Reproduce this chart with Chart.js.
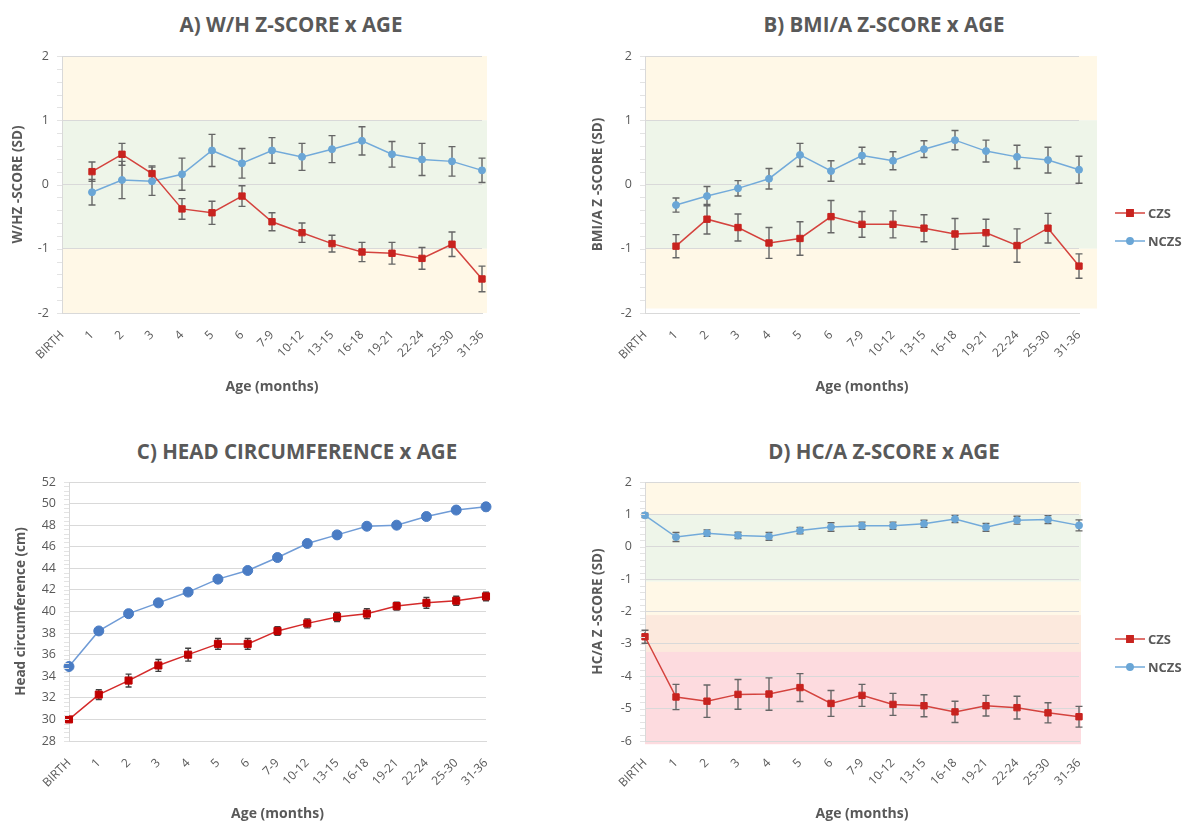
<!DOCTYPE html>
<html>
<head>
<meta charset="utf-8">
<script src="https://cdn.jsdelivr.net/npm/chart.js@4.4.1/dist/chart.umd.min.js"></script>
<style>
    html, body { margin: 0; padding: 0; background: #fff; overflow: hidden; }
    body { width: 1186px; height: 823px; position: relative; font-family: "Open Sans", sans-serif; }
    canvas { position: absolute; }
    .title {
        position: absolute;
        transform: translate(-50%, -50%);
        font-size: 20.5px;
        font-weight: bold;
        color: #595959;
        white-space: nowrap;
    }
</style>
</head>
<body>
<div class="title" style="left:291px; top:24px;">A) W/H Z-SCORE x AGE</div>
<div class="title" style="left:884px; top:24px;">B) BMI/A Z-SCORE x AGE</div>
<div class="title" style="left:297px; top:451px;">C) HEAD CIRCUMFERENCE x AGE</div>
<div class="title" style="left:884px; top:451px;">D) HC/A Z-SCORE x AGE</div>

<canvas id="chartA" width="540" height="403" style="left:0; top:0;"></canvas>
<canvas id="chartB" width="626" height="403" style="left:560px; top:0;"></canvas>
<canvas id="chartC" width="540" height="403" style="left:0; top:420px;"></canvas>
<canvas id="chartD" width="626" height="403" style="left:560px; top:420px;"></canvas>

<script>
// Age groups (x axis)
const ageLabels = ['BIRTH', '1', '2', '3', '4', '5', '6', '7-9', '10-12', '13-15', '16-18', '19-21', '22-24', '25-30', '31-36'];

// A) W/H z-score
const whzCzs = [null, 0.20, 0.47, 0.17, -0.38, -0.44, -0.18, -0.58, -0.75, -0.92, -1.05, -1.07, -1.15, -0.93, -1.47];
const whzCzsErr = [null, 0.15, 0.17, 0.12, 0.16, 0.18, 0.16, 0.14, 0.15, 0.13, 0.15, 0.17, 0.17, 0.19, 0.20];
const whzNczs = [null, -0.12, 0.07, 0.05, 0.16, 0.53, 0.33, 0.53, 0.43, 0.55, 0.68, 0.47, 0.39, 0.36, 0.22];
const whzNczsErr = [null, 0.20, 0.29, 0.22, 0.25, 0.25, 0.23, 0.20, 0.21, 0.21, 0.22, 0.20, 0.25, 0.23, 0.19];
const whzBands = [[1, 2], [-1, 1], [-2, -1]];

// B) BMI/A z-score
const bmiCzs = [null, -0.96, -0.54, -0.67, -0.91, -0.84, -0.50, -0.62, -0.62, -0.68, -0.77, -0.75, -0.95, -0.68, -1.27];
const bmiCzsErr = [null, 0.18, 0.23, 0.21, 0.24, 0.26, 0.25, 0.20, 0.21, 0.21, 0.24, 0.21, 0.26, 0.23, 0.19];
const bmiNczs = [null, -0.32, -0.18, -0.06, 0.09, 0.46, 0.21, 0.45, 0.37, 0.55, 0.69, 0.52, 0.43, 0.38, 0.23];
const bmiNczsErr = [null, 0.11, 0.15, 0.12, 0.16, 0.18, 0.16, 0.13, 0.14, 0.13, 0.15, 0.17, 0.18, 0.20, 0.21];
const bmiBands = [[1, 2], [-1, 1], [-1.93, -1]];

// C) Head circumference (cm)
const hcCzs = [30.0, 32.3, 33.6, 35.0, 36.0, 37.0, 37.0, 38.2, 38.9, 39.5, 39.8, 40.5, 40.8, 41.0, 41.4];
const hcCzsErr = [0.2, 0.45, 0.6, 0.55, 0.6, 0.5, 0.5, 0.4, 0.42, 0.42, 0.46, 0.37, 0.5, 0.42, 0.4];
const hcNczs = [34.9, 38.2, 39.8, 40.8, 41.8, 43.0, 43.8, 45.0, 46.3, 47.1, 47.9, 48.0, 48.8, 49.4, 49.7];
const hcNczsErr = [0.15, 0.2, 0.2, 0.2, 0.2, 0.2, 0.25, 0.2, 0.2, 0.25, 0.2, 0.2, 0.25, 0.3, 0.35];

// D) HC/A z-score
const hcaCzs = [-2.78, -4.64, -4.77, -4.56, -4.55, -4.35, -4.84, -4.59, -4.87, -4.91, -5.10, -4.91, -4.97, -5.13, -5.25];
const hcaCzsErr = [0.20, 0.39, 0.50, 0.46, 0.50, 0.43, 0.40, 0.34, 0.34, 0.34, 0.33, 0.32, 0.35, 0.31, 0.32];
const hcaNczs = [0.97, 0.30, 0.42, 0.35, 0.32, 0.50, 0.61, 0.65, 0.65, 0.71, 0.86, 0.60, 0.82, 0.84, 0.66];
const hcaNczsErr = [0.07, 0.14, 0.10, 0.10, 0.12, 0.10, 0.13, 0.11, 0.11, 0.11, 0.11, 0.12, 0.12, 0.12, 0.17];
const hcaBands = [[1, 2], [-1.08, 1], [-2.11, -1.08], [-3.25, -2.11], [-6.1, -3.25]];

const BAND_YELLOW = '#FFF8E7';
const BAND_GREEN = '#EEF5E9';
const BAND_PEACH = '#FCE9DD';
const BAND_PINK = '#FDDBDF';

Chart.defaults.font.family = '"Open Sans", sans-serif';
Chart.defaults.color = '#595959';

// Coloured background ranges behind the grid
const bandPlugin = {
    id: 'bands',
    beforeDraw(chart, args, opts) {
        if (!opts.ranges) return;
        const {ctx, chartArea, scales} = chart;
        const y = scales.y;
        ctx.save();
        opts.ranges.forEach((r, i) => {
            const top = y.getPixelForValue(r[1]);
            const bottom = y.getPixelForValue(r[0]);
            ctx.fillStyle = opts.colors[i];
            ctx.fillRect(chartArea.left, top, chartArea.right - chartArea.left + opts.extend, bottom - top);
        });
        ctx.restore();
    }
};

// Small minor tick marks left of the y axis
const minorTickPlugin = {
    id: 'minorTicks',
    afterDraw(chart, args, opts) {
        const {ctx, chartArea, scales} = chart;
        const y = scales.y;
        const step = opts.step;
        ctx.save();
        ctx.strokeStyle = '#E3E3E3';
        ctx.lineWidth = 1;
        ctx.beginPath();
        for (let v = y.min; v <= y.max + 1e-9; v += step) {
            const py = Math.round(y.getPixelForValue(v)) + 0.5;
            ctx.moveTo(chartArea.left - 5, py);
            ctx.lineTo(chartArea.left, py);
        }
        ctx.stroke();
        ctx.restore();
    }
};

// Vertical error bars with caps (+/- values kept on each dataset)
const errorBarPlugin = {
    id: 'errorBars',
    beforeDatasetsDraw(chart, args, opts) {
        const {ctx, scales} = chart;
        const y = scales.y;
        ctx.save();
        ctx.strokeStyle = opts.color;
        ctx.lineWidth = opts.width;
        chart.data.datasets.forEach((ds, i) => {
            const meta = chart.getDatasetMeta(i);
            meta.data.forEach((pt, j) => {
                const v = ds.data[j];
                const e = ds.errors[j];
                if (v == null || e == null) return;
                const top = y.getPixelForValue(v + e);
                const bottom = y.getPixelForValue(v - e);
                const x = pt.x;
                ctx.beginPath();
                ctx.moveTo(x, top);
                ctx.lineTo(x, bottom);
                ctx.moveTo(x - opts.cap, top);
                ctx.lineTo(x + opts.cap, top);
                ctx.moveTo(x - opts.cap, bottom);
                ctx.lineTo(x + opts.cap, bottom);
                ctx.stroke();
            });
        });
        ctx.restore();
    }
};

// Excel style legend: short line with the marker in the middle
const lineLegendPlugin = {
    id: 'lineLegend',
    afterDraw(chart, args, opts) {
        if (!opts.display) return;
        const {ctx, chartArea} = chart;
        ctx.save();
        chart.data.datasets.forEach((ds, i) => {
            const x0 = chartArea.right + opts.offsetX;
            const y0 = chartArea.top + opts.offsetY + i * opts.spacing;
            ctx.strokeStyle = ds.borderColor;
            ctx.lineWidth = 1.5;
            ctx.beginPath();
            ctx.moveTo(x0, y0);
            ctx.lineTo(x0 + 30, y0);
            ctx.stroke();
            ctx.fillStyle = ds.pointBackgroundColor;
            ctx.strokeStyle = ds.pointBorderColor;
            Chart.helpers.drawPoint(ctx, {pointStyle: ds.pointStyle, radius: ds.legendRadius, rotation: 0, borderWidth: 1}, x0 + 15, y0);
            ctx.fillStyle = '#595959';
            ctx.font = 'bold 13px "Open Sans", sans-serif';
            ctx.textBaseline = 'middle';
            ctx.textAlign = 'left';
            ctx.fillText(ds.label, x0 + 33, y0 + 1);
        });
        ctx.restore();
    }
};

function czsDataset(values, errors, colors, radius) {
    return {
        label: 'CZS',
        data: values,
        errors: errors,
        borderColor: colors.line,
        borderWidth: 1.5,
        pointStyle: 'rect',
        pointRadius: radius,
        pointBackgroundColor: colors.marker,
        pointBorderColor: colors.marker,
        pointBorderWidth: 1,
        legendRadius: 4.5,
        spanGaps: false
    };
}

function nczsDataset(values, errors, colors, radius) {
    return {
        label: 'NCZS',
        data: values,
        errors: errors,
        borderColor: colors.line,
        borderWidth: 1.5,
        pointStyle: 'circle',
        pointRadius: radius,
        pointBackgroundColor: colors.marker,
        pointBorderColor: colors.marker,
        pointBorderWidth: 1,
        legendRadius: 3.2,
        spanGaps: false
    };
}

const redLight = {line: '#D4433E', marker: '#C8231F'};
const blueLight = {line: '#72AADA', marker: '#6AA6D6'};
const redDark = {line: '#D42A2A', marker: '#C00000'};
const blueDark = {line: '#6F9BD6', marker: '#4A7CC4'};

function makePanel(id, cfg) {
    return new Chart(document.getElementById(id), {
        type: 'line',
        data: {
            labels: ageLabels,
            datasets: cfg.datasets
        },
        options: {
            responsive: false,
            animation: false,
            devicePixelRatio: 1,
            layout: {
                padding: {left: 0, top: cfg.top, right: cfg.right, bottom: 0}
            },
            plugins: {
                legend: {display: false},
                tooltip: {enabled: false},
                title: {display: false},
                bands: {ranges: cfg.bands, colors: cfg.bandColors, extend: cfg.bandExtend || 0},
                minorTicks: {step: cfg.minorStep},
                errorBars: {color: cfg.errColor, width: 1.4, cap: cfg.cap},
                lineLegend: {display: cfg.legend, offsetX: 36, offsetY: 157, spacing: 28}
            },
            scales: {
                x: {
                    grid: {display: false},
                    border: {display: true, color: '#D9D9D9', width: 1},
                    ticks: {
                        minRotation: 45,
                        maxRotation: 45,
                        padding: 7,
                        color: '#595959',
                        font: {size: 12}
                    },
                    title: {
                        display: true,
                        text: 'Age (months)',
                        color: '#595959',
                        font: {size: 14, weight: 'bold'},
                        padding: {top: 0, bottom: cfg.xTitlePad}
                    },
                    afterFit(scale) { scale.height = cfg.xHeight; }
                },
                y: {
                    min: cfg.yMin,
                    max: cfg.yMax,
                    ticks: {
                        stepSize: cfg.yStep,
                        padding: 13,
                        color: '#595959',
                        font: {size: 12.5}
                    },
                    grid: {color: '#D9D9D9', drawTicks: false, lineWidth: 1},
                    border: {display: true, color: '#D9D9D9'},
                    title: {
                        display: true,
                        text: cfg.yTitle,
                        color: '#595959',
                        font: {size: cfg.yTitleSize, weight: 'bold'},
                        padding: {top: cfg.yTitlePad, bottom: 0}
                    },
                    afterFit(scale) { scale.width = cfg.yWidth; }
                }
            }
        },
        plugins: [bandPlugin, minorTickPlugin, errorBarPlugin, lineLegendPlugin]
    });
}

makePanel('chartA', {
    datasets: [
        czsDataset(whzCzs, whzCzsErr, redLight, 4.5),
        nczsDataset(whzNczs, whzNczsErr, blueLight, 3.5)
    ],
    top: 56, right: 58, yWidth: 62, xHeight: 90, xTitlePad: 8,
    yMin: -2, yMax: 2, yStep: 1, minorStep: 0.2,
    yTitle: 'W/HZ -SCORE (SD)', yTitleSize: 13.5, yTitlePad: 10,
    bands: whzBands, bandColors: [BAND_YELLOW, BAND_GREEN, BAND_YELLOW], bandExtend: 5,
    errColor: '#666666', cap: 3.5, legend: false
});

makePanel('chartB', {
    datasets: [
        czsDataset(bmiCzs, bmiCzsErr, redLight, 4.5),
        nczsDataset(bmiNczs, bmiNczsErr, blueLight, 3.5)
    ],
    top: 56, right: 107, yWidth: 85, xHeight: 90, xTitlePad: 8,
    yMin: -2, yMax: 2, yStep: 1, minorStep: 0.2,
    yTitle: 'BMI/A Z -SCORE (SD)', yTitleSize: 13.5, yTitlePad: 30,
    bands: bmiBands, bandColors: [BAND_YELLOW, BAND_GREEN, BAND_YELLOW], bandExtend: 18,
    errColor: '#666666', cap: 3.5, legend: true
});

makePanel('chartC', {
    datasets: [
        czsDataset(hcCzs, hcCzsErr, redDark, 5),
        nczsDataset(hcNczs, hcNczsErr, blueDark, 5)
    ],
    top: 62, right: 54, yWidth: 69, xHeight: 82, xTitlePad: 1,
    yMin: 28, yMax: 52, yStep: 2, minorStep: 0.4,
    yTitle: 'Head circumference (cm)', yTitleSize: 13.5, yTitlePad: 13,
    bands: null, bandColors: [],
    errColor: '#404040', cap: 3, legend: false
});

makePanel('chartD', {
    datasets: [
        czsDataset(hcaCzs, hcaCzsErr, redLight, 4.5),
        nczsDataset(hcaNczs, hcaNczsErr, blueLight, 3.5)
    ],
    top: 62, right: 107, yWidth: 85, xHeight: 82, xTitlePad: 1,
    yMin: -6, yMax: 2, yStep: 1, minorStep: 0.2,
    yTitle: 'HC/A Z -SCORE (SD)', yTitleSize: 13.5, yTitlePad: 30,
    bands: hcaBands, bandColors: [BAND_YELLOW, BAND_GREEN, BAND_YELLOW, BAND_PEACH, BAND_PINK], bandExtend: 2,
    errColor: '#666666', cap: 3.5, legend: true
});
</script>
</body>
</html>
